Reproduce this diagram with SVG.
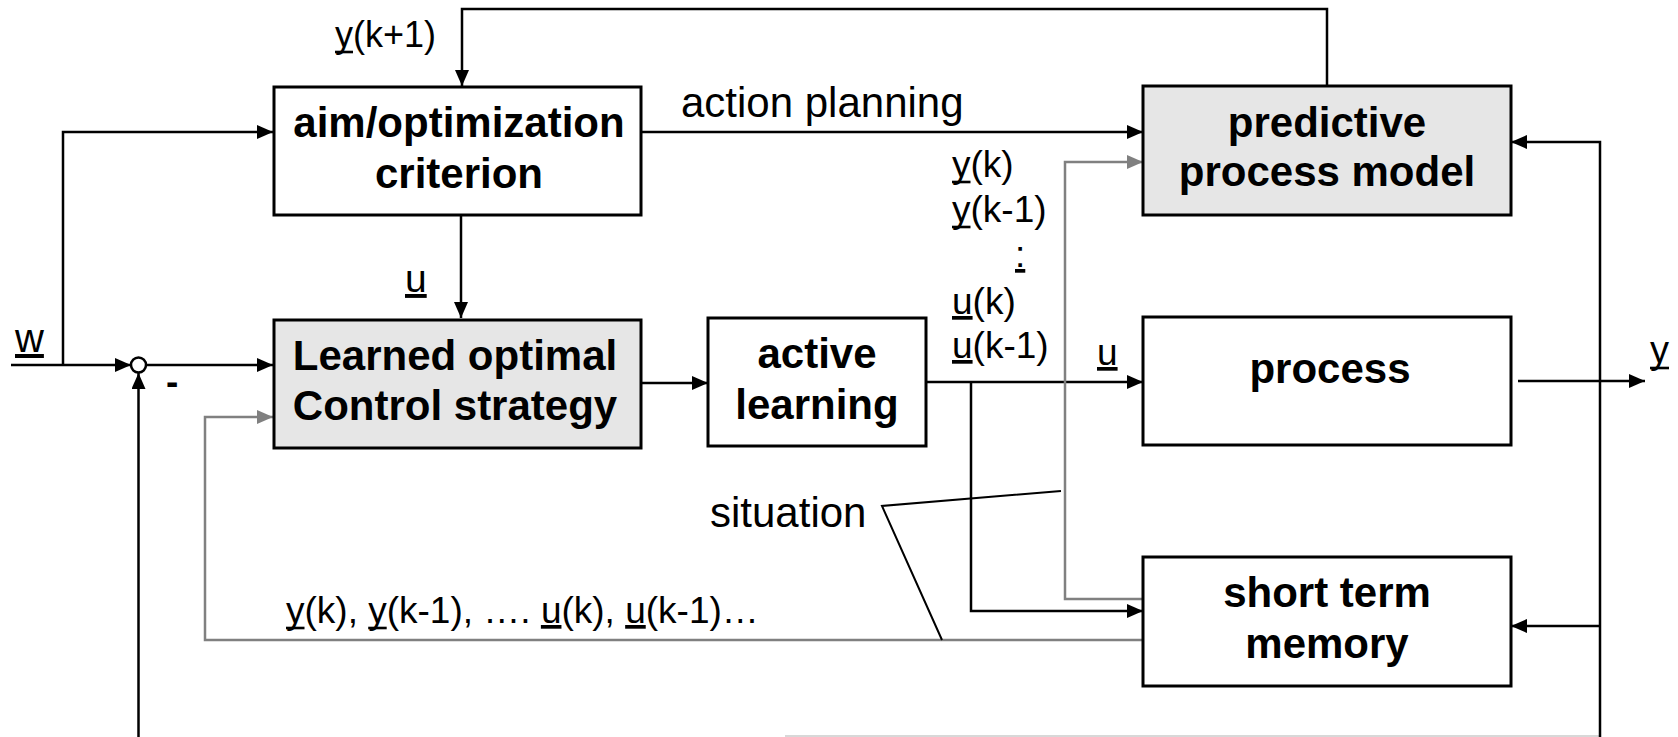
<svg xmlns="http://www.w3.org/2000/svg" width="1678" height="737" viewBox="0 0 1678 737">
<style>
.box{fill:#ffffff;stroke:#000;stroke-width:3}
.shade{fill:#e6e6e6;stroke:#000;stroke-width:3}
.t{font-family:"Liberation Sans",Arial,sans-serif;font-weight:bold;font-size:42px;text-anchor:middle;fill:#000}
.l{font-family:"Liberation Sans",Arial,sans-serif;font-size:37px;fill:#000}
.ln{fill:none;stroke:#000;stroke-width:2.5}
.gr{fill:none;stroke:#808080;stroke-width:2.5}
.u{text-decoration:underline}
.ul{stroke:#000;stroke-width:2.6}
</style>
<defs>
<marker id="ab" viewBox="0 0 16 14" refX="16" refY="7" markerWidth="16" markerHeight="14" markerUnits="userSpaceOnUse" orient="auto"><path d="M0,0 L16,7 L0,14 Z" fill="#000"/></marker>
<marker id="ag" viewBox="0 0 16 14" refX="16" refY="7" markerWidth="16" markerHeight="14" markerUnits="userSpaceOnUse" orient="auto"><path d="M0,0 L16,7 L0,14 Z" fill="#808080"/></marker>
</defs>
<rect width="1678" height="737" fill="#fff"/>
<g id="connectors">
<polyline class="ln" points="1327,86 1327,9 462,9 462,86" marker-end="url(#ab)"/>
<line class="ln" x1="11" y1="365" x2="131" y2="365" marker-end="url(#ab)"/>
<polyline class="ln" points="63,365 63,132 273,132" marker-end="url(#ab)"/>
<line class="ln" x1="146" y1="365" x2="273" y2="365" marker-end="url(#ab)"/>
<line class="ln" x1="138.5" y1="737" x2="138.5" y2="373" marker-end="url(#ab)"/>
<line x1="785" y1="736" x2="1600" y2="736" stroke="#d8d8d8" stroke-width="2"/>
<polyline class="ln" points="1600,737 1600,142 1511,142" marker-end="url(#ab)"/>
<line class="ln" x1="1600" y1="626" x2="1511" y2="626" marker-end="url(#ab)"/>
<line class="ln" x1="1518" y1="381" x2="1645" y2="381" marker-end="url(#ab)"/>
<line class="ln" x1="461" y1="215" x2="461" y2="318" marker-end="url(#ab)"/>
<line class="ln" x1="641" y1="132" x2="1143" y2="132" marker-end="url(#ab)"/>
<line class="ln" x1="641" y1="383" x2="708" y2="383" marker-end="url(#ab)"/>
<line class="ln" x1="926" y1="382" x2="1143" y2="382" marker-end="url(#ab)"/>
<polyline class="ln" points="971,382 971,611 1143,611" marker-end="url(#ab)"/>
<polyline class="gr" points="1143,599 1065,599 1065,162 1143,162" marker-end="url(#ag)"/>
<polyline class="gr" points="1143,640 205,640 205,417 273,417" marker-end="url(#ag)"/>
<polyline fill="none" stroke="#000" stroke-width="2" points="1061,491 882,506 942,640"/>
<circle cx="138.5" cy="365" r="7.5" fill="#fff" stroke="#000" stroke-width="2.5"/>
</g>
<g id="aim">
<rect class="box" x="274" y="87" width="367" height="128"/>
<text class="t" x="459" y="137">aim/optimization</text>
<text class="t" x="459" y="188">criterion</text>
</g>
<g id="learned">
<rect class="shade" x="274" y="320" width="367" height="128"/>
<text class="t" x="455" y="370">Learned optimal</text>
<text class="t" x="455" y="420">Control strategy</text>
</g>
<g id="active">
<rect class="box" x="708" y="318" width="218" height="128"/>
<text class="t" x="817" y="368">active</text>
<text class="t" x="817" y="419">learning</text>
</g>
<g id="predictive">
<rect class="shade" x="1143" y="86" width="368" height="129"/>
<text class="t" x="1327" y="137">predictive</text>
<text class="t" x="1327" y="186">process model</text>
</g>
<g id="process">
<rect class="box" x="1143" y="317" width="368" height="128"/>
<text class="t" x="1330" y="383">process</text>
</g>
<g id="memory">
<rect class="box" x="1143" y="557" width="368" height="129"/>
<text class="t" x="1327" y="607">short term</text>
<text class="t" x="1327" y="658">memory</text>
</g>
<g id="labels">
<text class="l" x="335" y="47" style="font-size:36px">y(k+1)</text>
<line class="ul" x1="335" y1="52" x2="353" y2="52"/>
<text class="l" x="681" y="117" style="font-size:42px">action planning</text>
<text class="l" x="15" y="352" style="font-size:40px"><tspan class="u">w</tspan></text>
<text class="l" x="166" y="394" font-weight="bold">-</text>
<text class="l" x="405" y="292" style="font-size:39px"><tspan class="u">u</tspan></text>
<text class="l" x="952" y="177">y(k)</text>
<line class="ul" x1="952" y1="182" x2="970.5" y2="182"/>
<text class="l" x="952" y="222">y(k-1)</text>
<line class="ul" x1="952" y1="227" x2="970.5" y2="227"/>
<text class="l" x="1015" y="267"><tspan class="u">:</tspan></text>
<text class="l" x="952" y="314"><tspan class="u">u</tspan>(k)</text>
<text class="l" x="952" y="358"><tspan class="u">u</tspan>(k-1)</text>
<text class="l" x="1097" y="365"><tspan class="u">u</tspan></text>
<text class="l" x="1650" y="363" style="font-size:38px">y</text>
<line class="ul" x1="1650" y1="368" x2="1669" y2="368"/>
<text class="l" x="710" y="527" style="font-size:42px">situation</text>
<text class="l" x="286" y="623">y(k), y(k-1), …. <tspan class="u">u</tspan>(k), <tspan class="u">u</tspan>(k-1)…</text>
<line class="ul" x1="286" y1="628" x2="304.5" y2="628"/>
<line class="ul" x1="368.2" y1="628" x2="386.7" y2="628"/>
</g>
</svg>
